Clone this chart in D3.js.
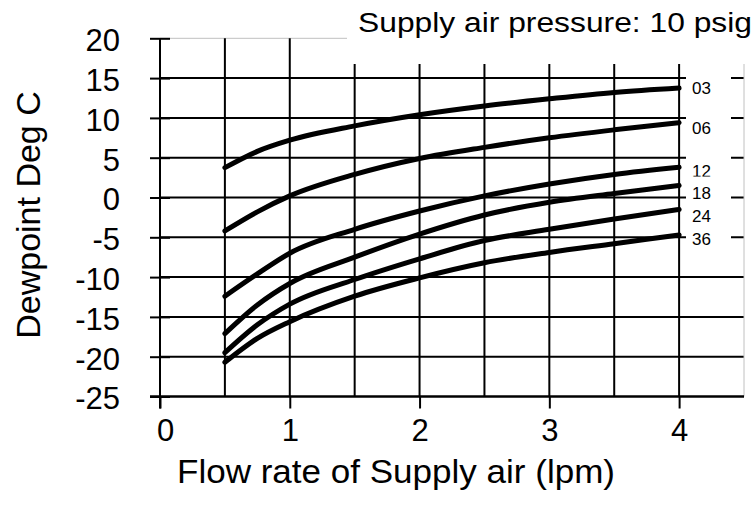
<!DOCTYPE html>
<html><head><meta charset="utf-8">
<script src="https://cdn.jsdelivr.net/npm/d3@7"></script>
<style>body{margin:0;background:#fff;overflow:hidden}</style>
</head><body>
<svg id="c" width="756" height="519"></svg>
<script>
// ---- data ----
const flow = [0.5, 0.75, 1, 1.5, 2, 2.5, 3, 3.5, 4];
const seriesNames = ["03", "06", "12", "18", "24", "36"];
const dew03 = [3.75, 5.8, 7.2, 9.0, 10.4, 11.5, 12.4, 13.2, 13.75];
const dew06 = [-4.2, -1.8, 0.2, 2.9, 4.9, 6.3, 7.5, 8.5, 9.4];
const dew12 = [-12.4, -9.6, -7.0, -4.0, -1.7, 0.2, 1.7, 2.9, 3.8];
const dew18 = [-17.1, -13.5, -10.8, -7.5, -4.6, -2.2, -0.6, 0.5, 1.5];
const dew24 = [-19.5, -16.0, -13.4, -10.3, -7.7, -5.4, -4.0, -2.7, -1.5];
const dew36 = [-20.7, -17.7, -15.6, -12.4, -10.1, -8.2, -6.9, -5.8, -4.7];
const xTicks = [0, 1, 2, 3, 4];
const xGrid = [0.5, 1, 1.5, 2, 2.5, 3, 3.5, 4];
const yTicks = [20, 15, 10, 5, 0, -5, -10, -15, -20, -25];
const titleText = "Supply air pressure: 10 psig";
const xTitle = "Flow rate of Supply air (lpm)";
const yTitle = "Dewpoint Deg C";

const series = [dew03, dew06, dew12, dew18, dew24, dew36].map((v, i) => ({
  name: seriesNames[i], pts: v.map((d, j) => [flow[j], d])
}));

// ---- layout ----
const svg = d3.select("#c");
const x = d3.scaleLinear().domain([0, 4.5]).range([160, 744]);
const y = d3.scaleLinear().domain([-25, 20]).range([396.5, 38.3]);
const font = "'Liberation Sans', Arial, sans-serif";

// horizontal gridlines
svg.append("g").selectAll("line").data(yTicks.filter(v => v < 20 && v > -25)).join("line")
  .attr("x1", x(0)).attr("x2", x(4.5)).attr("y1", d => y(d)).attr("y2", d => y(d))
  .attr("stroke", "#000").attr("stroke-width", 2);
// top border (gray) and right border
svg.append("line").attr("x1", x(0)).attr("x2", x(4.5)).attr("y1", y(20)).attr("y2", y(20))
  .attr("stroke", "#c0c0c0").attr("stroke-width", 1);
svg.append("line").attr("x1", x(4.5)).attr("x2", x(4.5)).attr("y1", y(20)).attr("y2", y(-25))
  .attr("stroke", "#c0c0c0").attr("stroke-width", 1);
// vertical gridlines
svg.append("g").selectAll("line").data(xGrid).join("line")
  .attr("x1", d => x(d)).attr("x2", d => x(d)).attr("y1", y(20)).attr("y2", y(-25))
  .attr("stroke", "#000").attr("stroke-width", 2);

// curves
const line = d3.line().x(d => x(d[0])).y(d => y(d[1])).curve(d3.curveMonotoneX);
svg.append("g").selectAll("path").data(series).join("path")
  .attr("d", d => line(d.pts)).attr("fill", "none")
  .attr("stroke", "#000").attr("stroke-width", 5).attr("stroke-linecap", "round");

// label box
svg.append("rect").attr("x", 686).attr("y", 64).attr("width", 45).attr("height", 183).attr("fill", "#fff");
const labelY = {"03": 13.75, "06": 8.75, "12": 3.3, "18": 0.6, "24": -2.3, "36": -5.2};
const clips = {"12": [150, 176.5], "18": [186.5, 215], "36": [225, 246.5]};
const defs = svg.append("defs");
Object.entries(clips).forEach(([k, c]) => {
  defs.append("clipPath").attr("id", "clip" + k).append("rect")
    .attr("x", 680).attr("y", c[0]).attr("width", 60).attr("height", c[1] - c[0]);
});
svg.append("g").selectAll("text").data(series).join("text")
  .attr("x", 692).attr("y", d => y(labelY[d.name]))
  .attr("dy", "0.36em")
  .attr("clip-path", d => clips[d.name] ? `url(#clip${d.name})` : null)
  .attr("font-family", font).attr("font-size", 17).attr("fill", "#000")
  .text(d => d.name);

// axes
svg.append("line").attr("x1", x(0)).attr("x2", x(0)).attr("y1", y(20)).attr("y2", y(-25) + 12)
  .attr("stroke", "#000").attr("stroke-width", 2);
svg.append("line").attr("x1", x(0) - 10).attr("x2", x(4.5)).attr("y1", y(-25)).attr("y2", y(-25))
  .attr("stroke", "#000").attr("stroke-width", 2.5);

const yAxis = d3.axisLeft(y).tickValues(yTicks).tickSize(10).tickPadding(40).tickFormat(d => String(d));
const gy = svg.append("g").attr("transform", `translate(${x(0)},0)`).call(yAxis);
gy.select(".domain").remove();
gy.selectAll(".tick line").attr("x1", -10).attr("x2", 10).attr("stroke", "#000").attr("stroke-width", 2);
gy.selectAll(".tick text").attr("font-family", font).attr("font-size", 31).attr("fill", "#000")
  .attr("dy", "0.40em").attr("x", -40);

const xAxis = d3.axisBottom(x).tickValues(xTicks).tickSize(12).tickPadding(10).tickFormat(d => String(d));
const gx = svg.append("g").attr("transform", `translate(0,${y(-25)})`).call(xAxis);
gx.select(".domain").remove();
gx.selectAll(".tick line").attr("stroke", "#000").attr("stroke-width", 2);
gx.selectAll(".tick text").attr("font-family", font).attr("font-size", 31).attr("fill", "#000")
  .attr("dx", d => d === 0 ? 5 : 0);

// title box
svg.append("rect").attr("x", 347).attr("y", 0).attr("width", 409).attr("height", 64).attr("fill", "#fff");
svg.append("text").attr("x", 358).attr("y", 32).attr("font-family", font).attr("font-size", 27)
  .attr("textLength", 394).attr("lengthAdjust", "spacingAndGlyphs").attr("fill", "#000").text(titleText);

// axis titles
svg.append("text").attr("x", 177).attr("y", 483)
  .attr("font-family", font).attr("font-size", 34)
  .attr("textLength", 438).attr("lengthAdjust", "spacingAndGlyphs").attr("fill", "#000").text(xTitle);
svg.append("text").attr("transform", `translate(40,215) rotate(-90)`).attr("text-anchor", "middle")
  .attr("font-family", font).attr("font-size", 34).attr("fill", "#000").text(yTitle);
</script>
</body></html>
